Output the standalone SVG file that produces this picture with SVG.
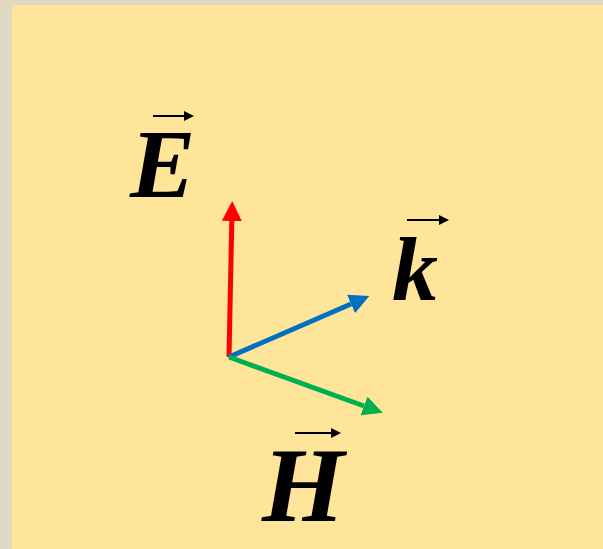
<svg xmlns="http://www.w3.org/2000/svg" width="603" height="549" viewBox="0 0 603 549">
<style>
.lbl{font-family:"Liberation Serif","Times New Roman",serif;font-weight:bold;font-style:italic;fill:#000}
.acc{stroke:#000;stroke-width:2.2;fill:none}
.acch{fill:#000}
</style>
<defs>
<marker id="hR" viewBox="0 0 10 10" refX="0" refY="5" markerWidth="4" markerHeight="4" orient="auto" markerUnits="strokeWidth"><path d="M0,0 L10,5 L0,10 z" fill="#FF0000"/></marker>
<marker id="hB" viewBox="0 0 10 10" refX="0" refY="5" markerWidth="4" markerHeight="4" orient="auto" markerUnits="strokeWidth"><path d="M0,0 L10,5 L0,10 z" fill="#0070C0"/></marker>
<marker id="hG" viewBox="0 0 10 10" refX="0" refY="5" markerWidth="4" markerHeight="4" orient="auto" markerUnits="strokeWidth"><path d="M0,0 L10,5 L0,10 z" fill="#00B050"/></marker>
</defs>
<rect x="0" y="0" width="603" height="549" fill="#DFD9C3"/>
<rect x="12" y="5" width="591" height="544" fill="#FEE599"/>
<g id="connectors">
<line x1="229" y1="357" x2="231.8" y2="221" stroke="#FF0000" stroke-width="5" marker-end="url(#hR)"/>
<line x1="229" y1="357" x2="351" y2="304" stroke="#0070C0" stroke-width="5" marker-end="url(#hB)"/>
<line x1="229" y1="357" x2="364" y2="406" stroke="#00B050" stroke-width="5" marker-end="url(#hG)"/>
</g>
<g id="E">
<text class="lbl" x="130" y="197" font-size="98">E</text>
<line class="acc" x1="153" y1="116" x2="186" y2="116"/>
<path class="acch" d="M184,111 L194,116 L184,121 z"/>
</g>
<g id="k">
<text class="lbl" x="392" y="300" font-size="92">k</text>
<line class="acc" x1="407" y1="220" x2="441" y2="220"/>
<path class="acch" d="M439,215 L449,220 L439,225 z"/>
</g>
<g id="H">
<text class="lbl" x="262" y="521" font-size="106">H</text>
<line class="acc" x1="295" y1="433" x2="333" y2="433"/>
<path class="acch" d="M331,428 L341,433 L331,438 z"/>
</g>
</svg>
